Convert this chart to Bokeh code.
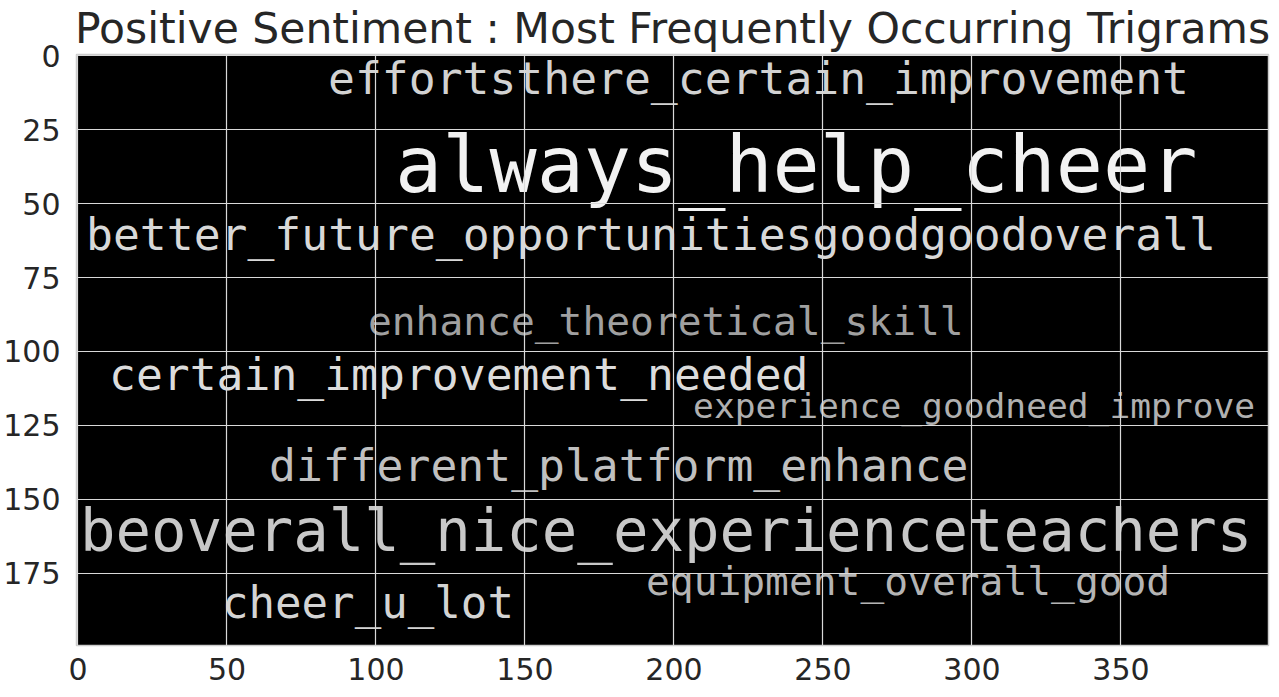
from bokeh.plotting import figure
from bokeh.models import ColumnDataSource, FixedTicker, Range1d
from bokeh.core.properties import value
from bokeh.embed import file_html
from bokeh.resources import INLINE

# ---- data: trigram words of the word cloud, with their relative weight ----
words = [
    "effortsthere_certain_improvement",
    "always_help_cheer",
    "better_future_opportunitiesgoodgoodoverall",
    "enhance_theoretical_skill",
    "certain_improvement_needed",
    "experience_goodneed_improve",
    "different_platform_enhance",
    "beoverall_nice_experienceteachers",
    "cheer_u_lot",
    "equipment_overall_good",
]
weights = [15, 26.3, 15, 13.3, 15, 11.6, 15, 19.8, 14.8, 13.3]   # font size in image pixels
shades = ["#d2d2d2", "#f2f2f2", "#d8d8d8", "#a0a0a0", "#dcdcdc",
          "#b0b0b0", "#c0c0c0", "#c8c8c8", "#d4d4d4", "#b4b4b4"]

# word placement inside the 400x200 word-cloud image (left, baseline)
word_x = [83.9, 106.4, 2.7, 97.3, 10.4, 206.4, 64.1, 0.7, 48.3, 190.6]
word_y = [13.5, 46.6, 66.2, 94.6, 113.8, 123.0, 144.3, 168.2, 190.5, 182.8]

x_ticks = [0, 50, 100, 150, 200, 250, 300, 350]
y_ticks = [0, 25, 50, 75, 100, 125, 150, 175]
img_w, img_h = 400, 200

title = "Positive Sentiment : Most Frequently Occurring Trigrams"

frame_w, frame_h = 1192, 591
px_per_unit = frame_w / img_w
baseline_fix = 0.38  # em offset of the renderer's alphabetic baseline

p = figure(
    frame_width=frame_w, frame_height=frame_h,
    x_range=Range1d(-0.5, img_w - 0.5),
    y_range=Range1d(img_h - 0.5, -0.5),
    output_backend="svg", toolbar_location=None,
    title=title,
    min_border_left=64, min_border_right=5, min_border_top=0, min_border_bottom=44,
)
p.background_fill_color = "black"
p.border_fill_color = "white"
p.outline_line_color = "#cccccc"
p.outline_line_width = 1.5

p.title.text_font = "DejaVu Sans"
p.title.text_font_size = "42.5px"
p.title.text_font_style = "normal"
p.title.text_color = "#262626"
p.title.align = "center"
p.title.standoff = 3

sizes_px = [w * px_per_unit for w in weights]
src = ColumnDataSource(dict(
    x=word_x,
    y=[y - baseline_fix * s / px_per_unit for y, s in zip(word_y, sizes_px)],
    text=words,
    size=[f"{s:.1f}px" for s in sizes_px],
    color=shades,
))
p.text(x="x", y="y", text="text", source=src,
       text_font=value("DejaVu Sans Mono"), text_font_size="size",
       text_color="color", text_align="left", text_baseline="alphabetic")

for ax, ticks in ((p.xaxis, x_ticks), (p.yaxis, y_ticks)):
    ax.ticker = FixedTicker(ticks=ticks)
    ax.major_tick_line_color = None
    ax.minor_tick_line_color = None
    ax.axis_line_color = None
    ax.major_label_text_font = "DejaVu Sans"
    ax.major_label_text_font_size = "30px"
    ax.major_label_text_color = "#262626"
p.xaxis.major_label_standoff = 6
p.yaxis.major_label_standoff = 10

p.xgrid.ticker = FixedTicker(ticks=x_ticks)
p.ygrid.ticker = FixedTicker(ticks=y_ticks)
for g in (p.xgrid, p.ygrid):
    g.grid_line_color = "#d9d9d9"
    g.grid_line_width = 1.2
    g.level = "overlay"

open("out.html", "w").write(file_html(p, INLINE))
